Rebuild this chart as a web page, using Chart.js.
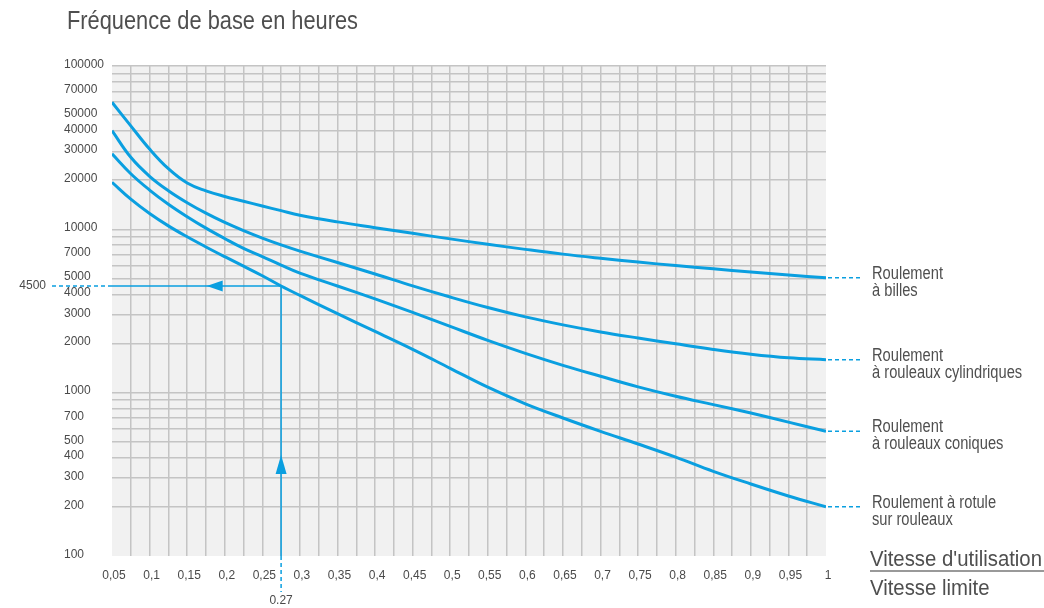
<!DOCTYPE html>
<html>
<head>
<meta charset="utf-8">
<script src="https://cdn.jsdelivr.net/npm/chart.js@4.4.1/dist/chart.umd.min.js"></script>
<style>
  html, body { margin: 0; padding: 0; background: #fff; }
  #wrap { width: 1044px; height: 608px; position: relative; }
</style>
</head>
<body>
<div id="wrap"><canvas id="chart" width="1044" height="608"></canvas></div>
<script>
// speed ratio (vitesse d'utilisation / vitesse limite)
const speedRatio = [0.05, 0.075, 0.1, 0.125, 0.15, 0.175, 0.2, 0.225, 0.25, 0.275, 0.3, 0.35, 0.4,
  0.45, 0.5, 0.55, 0.6, 0.65, 0.7, 0.75, 0.8, 0.85, 0.9, 0.95, 1];

// base frequency in hours, one list per bearing type
const billes = [60000, 43000, 31000, 23500, 19200, 17200, 15900, 14870, 13900, 13010, 12210, 11110, 10240,
  9450, 8740, 8100, 7540, 7050, 6650, 6300, 6000, 5730, 5480, 5250, 5050];
const cylindriques = [40200, 27600, 21130, 17240, 14560, 12560, 11020, 9820, 8840, 8030, 7360, 6260, 5330,
  4510, 3850, 3320, 2910, 2600, 2355, 2160, 1990, 1840, 1720, 1635, 1590];
const coniques = [29000, 21900, 17400, 14250, 11950, 10170, 8780, 7650, 6810, 6045, 5400, 4500, 3750,
  3100, 2545, 2090, 1740, 1470, 1260, 1085, 950, 845, 750, 660, 580];
const rotule = [19400, 15300, 12500, 10500, 9000, 7800, 6800, 5950, 5200, 4500, 3940, 3050, 2370,
  1840, 1410, 1080, 855, 700, 580, 485, 403, 330, 276, 233, 200];

const seriesNames = [
  ['Roulement', 'à billes'],
  ['Roulement', 'à rouleaux cylindriques'],
  ['Roulement', 'à rouleaux coniques'],
  ['Roulement à rotule', 'sur rouleaux']
];

const xTickValues = [0.05, 0.1, 0.15, 0.2, 0.25, 0.3, 0.35, 0.4, 0.45, 0.5, 0.55, 0.6, 0.65, 0.7, 0.75, 0.8, 0.85, 0.9, 0.95, 1];
const xTickLabels = ['0,05', '0,1', '0,15', '0,2', '0,25', '0,3', '0,35', '0,4', '0,45', '0,5', '0,55', '0,6',
  '0,65', '0,7', '0,75', '0,8', '0,85', '0,9', '0,95', '1'];
const yTickLabels = [100, 200, 300, 400, 500, 700, 1000, 2000, 3000, 4000, 5000, 7000,
  10000, 20000, 30000, 40000, 50000, 70000, 100000];

// worked example: read at 0.27 -> 4500 h
const exampleSpeed = 0.275;
const exampleSpeedLabel = '0.27';
const exampleHours = 4500;

const BLUE = '#0a9fe0';
const GRID = '#c4c4c4';
const TEXT = '#4a4a4a';
const SANS = '"Liberation Sans", Arial, sans-serif';

// grid every 0.025 on x, every mantissa 1..9 on y
const xGrid = [];
for (let i = 0; i <= 38; i++) xGrid.push(Math.round((0.05 + i * 0.025) * 1000) / 1000);
const yGrid = [];
[100, 1000, 10000].forEach(d => { for (let m = 1; m <= 9; m++) yGrid.push(d * m); });
yGrid.push(100000);

function pts(arr) {
  return speedRatio.map((x, i) => ({ x: x, y: arr[i] }));
}

// condensed-looking text: squeeze a regular face horizontally
function squeeze(ctx, text, size) {
  ctx.font = size + 'px ' + SANS;
  return ctx.measureText(text).width;
}
function drawNarrow(ctx, text, x, y, size, sx) {
  ctx.save();
  ctx.font = size + 'px ' + SANS;
  ctx.translate(x, y);
  ctx.scale(sx, 1);
  ctx.textAlign = 'left';
  ctx.textBaseline = 'alphabetic';
  ctx.fillText(text, 0, 0);
  ctx.restore();
}

const overlay = {
  id: 'overlay',
  beforeDraw(chart) {
    const { ctx, chartArea: a } = chart;
    ctx.save();
    ctx.fillStyle = '#fff';
    ctx.fillRect(0, 0, chart.width, chart.height);
    ctx.fillStyle = '#f1f1f1';
    ctx.fillRect(a.left, a.top, a.right - a.left, a.bottom - a.top);
    ctx.restore();
  },
  afterDraw(chart) {
    const { ctx, chartArea: a } = chart;
    const xs = chart.scales.x, ys = chart.scales.y;
    ctx.save();

    // title
    ctx.fillStyle = '#4f4f4f';
    const title = 'Fréquence de base en heures';
    drawNarrow(ctx, title, 67, 29, 25, 291 / squeeze(ctx, title, 25));

    // worked example lines
    const gx = xs.getPixelForValue(exampleSpeed);
    const gy = ys.getPixelForValue(exampleHours);
    ctx.strokeStyle = BLUE;
    ctx.fillStyle = BLUE;
    ctx.lineWidth = 1.5;
    ctx.beginPath();
    ctx.moveTo(a.left, gy); ctx.lineTo(gx, gy); ctx.lineTo(gx, a.bottom);
    ctx.stroke();
    // arrow heads
    const tipX = a.left + 0.56 * (gx - a.left);
    ctx.beginPath();
    ctx.moveTo(tipX, gy); ctx.lineTo(tipX + 16, gy - 5.5); ctx.lineTo(tipX + 16, gy + 5.5); ctx.closePath();
    ctx.fill();
    const tipY = a.bottom - 0.374 * (a.bottom - gy);
    ctx.beginPath();
    ctx.moveTo(gx, tipY); ctx.lineTo(gx - 5.5, tipY + 19); ctx.lineTo(gx + 5.5, tipY + 19); ctx.closePath();
    ctx.fill();
    // dashed leaders
    ctx.setLineDash([4, 3]);
    ctx.beginPath();
    ctx.moveTo(a.left, gy); ctx.lineTo(49, gy);
    ctx.moveTo(gx, a.bottom); ctx.lineTo(gx, 592);
    ctx.stroke();

    ctx.fillStyle = TEXT;
    ctx.font = '12px ' + SANS;
    ctx.textAlign = 'right';
    ctx.textBaseline = 'middle';
    ctx.fillText(String(exampleHours), 46, gy);
    ctx.textAlign = 'center';
    ctx.fillText(exampleSpeedLabel, gx, 601);

    // series end connectors and names
    const labelSx = 71 / squeeze(ctx, 'Roulement', 17.5);
    const ends = [billes, cylindriques, coniques, rotule];
    ends.forEach((arr, i) => {
      const y = ys.getPixelForValue(arr[arr.length - 1]);
      ctx.strokeStyle = BLUE;
      ctx.lineWidth = 1.5;
      ctx.setLineDash([4, 3]);
      ctx.beginPath();
      ctx.moveTo(a.right + 2, y); ctx.lineTo(862, y);
      ctx.stroke();
      ctx.setLineDash([]);
      ctx.fillStyle = '#4f4f4f';
      drawNarrow(ctx, seriesNames[i][0], 872, y + 1, 17.5, labelSx);
      drawNarrow(ctx, seriesNames[i][1], 872, y + 18, 17.5, labelSx);
    });

    // axis title as a fraction
    ctx.setLineDash([]);
    ctx.fillStyle = '#4f4f4f';
    const top = "Vitesse d'utilisation";
    const fracSx = 172 / squeeze(ctx, top, 22);
    drawNarrow(ctx, top, 870, 566, 22, fracSx);
    drawNarrow(ctx, 'Vitesse limite', 870, 595, 22, fracSx);
    ctx.strokeStyle = '#777';
    ctx.lineWidth = 1.5;
    ctx.beginPath();
    ctx.moveTo(870, 571); ctx.lineTo(1044, 571);
    ctx.stroke();

    ctx.restore();
  }
};

const series = [billes, cylindriques, coniques, rotule];

new Chart(document.getElementById('chart'), {
  type: 'line',
  data: {
    datasets: series.map((arr, i) => ({
      label: seriesNames[i].join(' '),
      data: pts(arr),
      borderColor: BLUE,
      borderWidth: 3,
      pointRadius: 0,
      fill: false,
      tension: 0.4
    }))
  },
  options: {
    responsive: false,
    animation: false,
    devicePixelRatio: 1,
    layout: { padding: { left: 64, right: 218, top: 66, bottom: 0 } },
    plugins: { legend: { display: false }, tooltip: { enabled: false } },
    scales: {
      x: {
        type: 'linear',
        min: 0.05,
        max: 1,
        afterBuildTicks: s => { s.ticks = xGrid.map(v => ({ value: v })); },
        afterFit: s => { s.height = 52; },
        ticks: {
          autoSkip: false,
          maxRotation: 0,
          padding: 12,
          labelOffset: 2,
          color: TEXT,
          font: { family: SANS, size: 12 },
          callback: v => {
            const k = xTickValues.findIndex(t => Math.abs(t - v) < 1e-6);
            return k >= 0 ? xTickLabels[k] : '';
          }
        },
        grid: {
          drawTicks: false,
          lineWidth: 1.5,
          color: c => (c.tick && (Math.abs(c.tick.value - 0.05) < 1e-6 || Math.abs(c.tick.value - 1) < 1e-6)) ? 'rgba(0,0,0,0)' : GRID
        },
        border: { display: false }
      },
      y: {
        type: 'logarithmic',
        min: 100,
        max: 100000,
        afterBuildTicks: s => { s.ticks = yGrid.map(v => ({ value: v })); },
        afterFit: s => { s.width = 48; },
        ticks: {
          autoSkip: false,
          crossAlign: 'far',
          padding: 0,
          labelOffset: -1.5,
          color: TEXT,
          font: { family: SANS, size: 12 },
          callback: v => yTickLabels.includes(v) ? String(v) : ''
        },
        grid: {
          drawTicks: false,
          lineWidth: 1.5,
          color: c => (c.tick && c.tick.value === 100) ? 'rgba(0,0,0,0)' : GRID
        },
        border: { display: false }
      }
    }
  },
  plugins: [overlay]
});
</script>
</body>
</html>
